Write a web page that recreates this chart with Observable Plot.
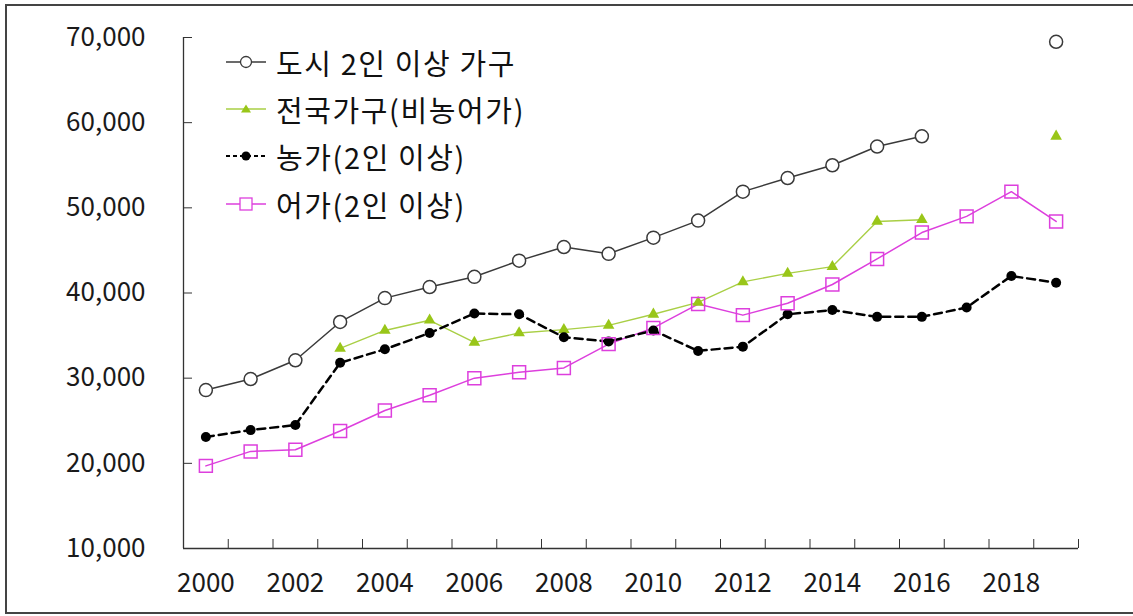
<!DOCTYPE html>
<html>
<head>
<meta charset="utf-8">
<script src="https://cdn.jsdelivr.net/npm/d3@7"></script>
<script src="https://cdn.jsdelivr.net/npm/@observablehq/plot@0.6"></script>
<style>
  html, body { margin: 0; padding: 0; background: #fff; }
  body { width: 1133px; height: 616px; position: relative; overflow: hidden; font-family: "Noto Sans CJK KR", sans-serif; }
  #frame { position: absolute; left: 5px; top: 4px; width: 1140px; height: 610px; border: 2px solid #444; box-sizing: border-box; }
  #chart { position: absolute; left: 0; top: 0; }
  #legend { position: absolute; left: 226px; top: 38px; font-size: 29px; letter-spacing: 1.6px; color: #111; }
  .row { display: flex; align-items: center; height: 47.4px; }
  .row svg { margin-right: 6px; }
</style>
</head>
<body>
<div id="frame"></div>
<div id="chart"></div>
<div id="legend"></div>
<script>
const years = [2000, 2001, 2002, 2003, 2004, 2005, 2006, 2007, 2008, 2009, 2010, 2011, 2012, 2013, 2014, 2015, 2016, 2017, 2018, 2019];
const urban = [28600, 29900, 32100, 36600, 39400, 40700, 41900, 43800, 45400, 44600, 46500, 48500, 51900, 53500, 55000, 57200, 58400, null, null, 69500];
const national = [null, null, null, 33500, 35600, 36800, 34200, 35300, 35700, 36200, 37500, 38900, 41300, 42300, 43100, 48400, 48600, null, null, 58400];
const farm = [23100, 23900, 24500, 31800, 33400, 35300, 37600, 37500, 34800, 34300, 35600, 33200, 33700, 37500, 38000, 37200, 37200, 38300, 42000, 41200];
const fish = [19700, 21400, 21600, 23800, 26200, 28000, 30000, 30700, 31200, 34000, 35900, 38700, 37400, 38800, 41000, 44000, 47100, 49000, 51900, 48400];
const seriesNames = ["도시 2인 이상 가구", "전국가구(비농어가)", "농가(2인 이상)", "어가(2인 이상)"];
const yTicks = [10000, 20000, 30000, 40000, 50000, 60000, 70000];
const xLabels = [2000, 2002, 2004, 2006, 2008, 2010, 2012, 2014, 2016, 2018];

const toRows = arr => years.map((yr, i) => ({year: yr, value: arr[i]}));
const rowsUrban = toRows(urban), rowsNat = toRows(national), rowsFarm = toRows(farm), rowsFish = toRows(fish);
const defined = rows => rows.filter(d => d.value != null);
const bounds = years.map(y => y + 0.5);

const cUrban = "#3a3a3a", cNat = "#99c619", cNatLine = "#a9cf45", cFarm = "#000000", cFish = "#dd3fdd";

const chart = Plot.plot({
  width: 1133,
  height: 616,
  marginLeft: 183,
  marginRight: 55,
  marginTop: 37,
  marginBottom: 68,
  style: {fontFamily: "'Noto Sans CJK KR', sans-serif", fontSize: "26px", color: "#1a1a1a", background: "transparent"},
  x: {type: "linear", domain: [1999.5, 2019.5], label: null},
  y: {domain: [10000, 70000], label: null},
  marks: [
    Plot.ruleX([1999.5], {stroke: "#333", strokeWidth: 1.3}),
    Plot.ruleY([10000], {stroke: "#333", strokeWidth: 1.3}),
    Plot.axisY({ticks: yTicks, tickSize: -9, tickPadding: 47, tickFormat: d3.format(","), stroke: "#333", label: null}),
    Plot.axisX({ticks: bounds, tickSize: -9, tickFormat: () => "", stroke: "#333", label: null}),
    Plot.axisX({ticks: xLabels, tickSize: 0, tickPadding: 25, tickFormat: d => String(d), label: null}),
    Plot.line(rowsFish, {x: "year", y: "value", stroke: cFish, strokeWidth: 1.5}),
    Plot.line(rowsNat, {x: "year", y: "value", stroke: cNatLine, strokeWidth: 1.4}),
    Plot.line(rowsUrban, {x: "year", y: "value", stroke: cUrban, strokeWidth: 1.5}),
    Plot.line(rowsFarm, {x: "year", y: "value", stroke: cFarm, strokeWidth: 2.5, strokeDasharray: "8,5"}),
    Plot.dot(defined(rowsUrban), {x: "year", y: "value", r: 6.5, stroke: cUrban, fill: "white", strokeWidth: 1.5}),
    Plot.dot(defined(rowsNat), {x: "year", y: "value", r: 4.3, symbol: "triangle", fill: cNat, stroke: "none"}),
    Plot.dot(defined(rowsFarm), {x: "year", y: "value", r: 5, fill: cFarm, stroke: "none"}),
    Plot.dot(defined(rowsFish), {x: "year", y: "value", r: 7.3, symbol: "square", stroke: cFish, fill: "none", strokeWidth: 1.5})
  ]
});
document.getElementById("chart").appendChild(chart);

// Legend
const legendSymbols = [
  `<line x1="0" y1="12" x2="40" y2="12" stroke="${cUrban}" stroke-width="1.3"/><circle cx="20" cy="12" r="5.5" fill="white" stroke="${cUrban}" stroke-width="1.3"/>`,
  `<line x1="0" y1="12" x2="40" y2="12" stroke="${cNatLine}" stroke-width="1.3"/><path d="M20,7.5L25,15.5L15,15.5Z" fill="${cNat}"/>`,
  `<line x1="0" y1="12" x2="40" y2="12" stroke="${cFarm}" stroke-width="1.8" stroke-dasharray="4,3"/><circle cx="20" cy="12" r="4.5" fill="${cFarm}"/>`,
  `<line x1="0" y1="12" x2="40" y2="12" stroke="${cFish}" stroke-width="1.3"/><rect x="14" y="6" width="12" height="12" fill="white" stroke="${cFish}" stroke-width="1.3"/>`
];
const legend = document.getElementById("legend");
seriesNames.forEach((name, i) => {
  const row = document.createElement("div");
  row.className = "row";
  row.innerHTML = `<svg width="44" height="24">${legendSymbols[i]}</svg><span>${name}</span>`;
  legend.appendChild(row);
});
</script>
</body>
</html>
